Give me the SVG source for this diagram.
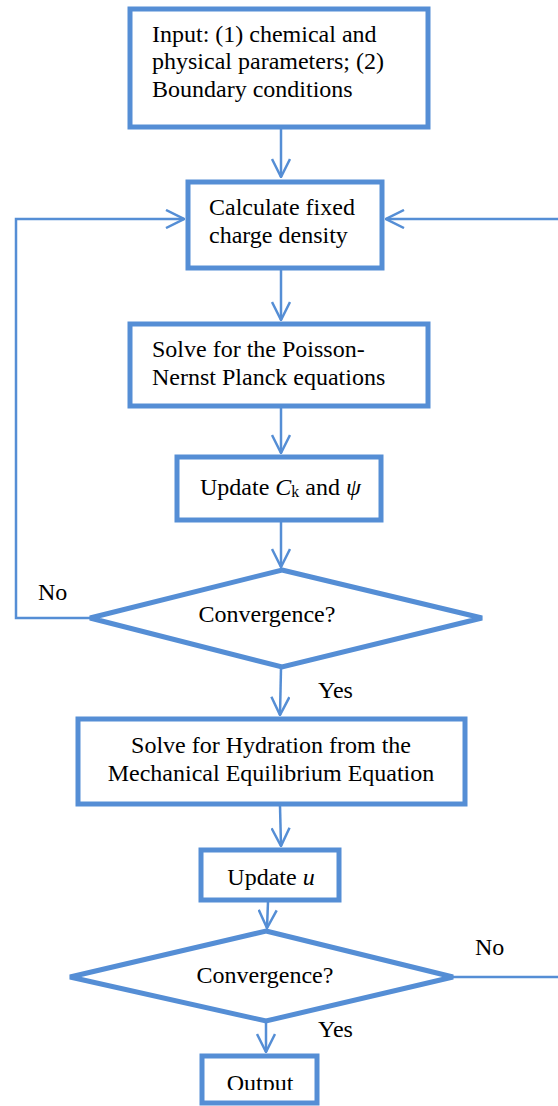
<svg xmlns="http://www.w3.org/2000/svg" width="558" height="1106" viewBox="0 0 558 1106">
<style>
.box{fill:#fff;stroke:#558ED5;stroke-width:5}
.ln{fill:none;stroke:#558ED5;stroke-width:2.5}
text{font-family:"Liberation Serif","Times New Roman",serif;font-size:24px;fill:#000}
.c{text-anchor:middle}
</style>
<defs>
<marker id="arr" viewBox="0 0 20 20" refX="19" refY="10" markerWidth="20" markerHeight="20" orient="auto" markerUnits="userSpaceOnUse">
<path d="M1,1 L19,10 L1,19" fill="none" stroke="#558ED5" stroke-width="2.5"/>
</marker>
<clipPath id="clipOut"><rect x="0" y="1040" width="558" height="50"/></clipPath>
</defs>
<rect width="558" height="1106" fill="#fff"/>
<g id="connectors">
<line class="ln" x1="281" y1="127" x2="281" y2="177" marker-end="url(#arr)"/>
<line class="ln" x1="281" y1="270" x2="281" y2="320" marker-end="url(#arr)"/>
<line class="ln" x1="281" y1="407" x2="281" y2="453" marker-end="url(#arr)"/>
<line class="ln" x1="281" y1="522" x2="281" y2="567" marker-end="url(#arr)"/>
<polyline class="ln" points="90,618 16,618 16,219 184,219" marker-end="url(#arr)"/>
<line class="ln" x1="558" y1="219" x2="386" y2="219" marker-end="url(#arr)"/>
<line class="ln" x1="281" y1="668" x2="280" y2="715" marker-end="url(#arr)"/>
<line class="ln" x1="280" y1="806" x2="281" y2="846" marker-end="url(#arr)"/>
<line class="ln" x1="268" y1="902" x2="267" y2="928" marker-end="url(#arr)"/>
<line class="ln" x1="453" y1="977" x2="558" y2="977"/>
<line class="ln" x1="266" y1="1022" x2="266" y2="1052" marker-end="url(#arr)"/>
</g>
<g id="input">
<rect class="box" x="130" y="9" width="298" height="118"/>
<text x="152" y="42">Input: (1) chemical and</text>
<text x="152" y="69">physical parameters; (2)</text>
<text x="152" y="97">Boundary conditions</text>
</g>
<g id="charge">
<rect class="box" x="188" y="182" width="194" height="86"/>
<text x="209" y="215">Calculate fixed</text>
<text x="209" y="243">charge density</text>
</g>
<g id="pnp">
<rect class="box" x="130" y="324" width="298" height="82"/>
<text x="152" y="357">Solve for the Poisson-</text>
<text x="152" y="385">Nernst Planck equations</text>
</g>
<g id="update1">
<rect class="box" x="177" y="457" width="204" height="63"/>
<text x="200" y="495">Update <tspan font-style="italic">C</tspan><tspan font-size="16" dy="2">k</tspan><tspan dy="-2"> and </tspan><tspan font-style="italic">ψ</tspan></text>
</g>
<g id="conv1">
<polygon class="box" points="282,570 482,618 282,667 90,618"/>
<text class="c" x="267" y="622">Convergence?</text>
<text x="38" y="600">No</text>
<text x="318" y="698">Yes</text>
</g>
<g id="hydration">
<rect class="box" x="78" y="719" width="387" height="85"/>
<text class="c" x="271" y="753">Solve for Hydration from the</text>
<text class="c" x="271" y="781">Mechanical Equilibrium Equation</text>
</g>
<g id="update2">
<rect class="box" x="201" y="850" width="138" height="50"/>
<text class="c" x="271" y="885">Update <tspan font-style="italic">u</tspan></text>
</g>
<g id="conv2">
<polygon class="box" points="266,931 453,977 266,1021 70,977"/>
<text class="c" x="265" y="983">Convergence?</text>
<text x="475" y="955">No</text>
<text x="318" y="1037">Yes</text>
</g>
<g id="output">
<rect class="box" x="202" y="1056" width="115" height="47"/>
<text class="c" x="260" y="1091" clip-path="url(#clipOut)">Output</text>
</g>
</svg>
